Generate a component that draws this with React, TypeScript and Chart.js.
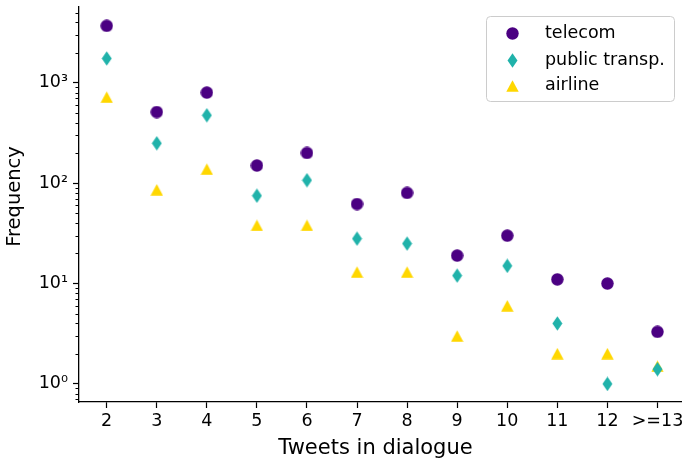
import React, { useEffect, useRef } from "react";
import { Chart, registerables } from "chart.js";

Chart.register(...registerables);

const categories = ["2", "3", "4", "5", "6", "7", "8", "9", "10", "11", "12", ">=13"];
const telecom = [3700, 512, 800, 150, 200, 62, 80, 19, 30, 11, 10, 3.3];
const publicTransp = [1750, 250, 475, 75, 107, 28, 25, 12, 15, 4, 1, 1.4];
const airline = [720, 86, 138, 38, 38, 13, 13, 3, 6, 2, 2, 1.5];
const yTickValues = [1, 10, 100, 1000];
const yTickLabels = ["10⁰", "10¹", "10²", "10³"];
const seriesNames = ["telecom", "public transp.", "airline"];
const seriesColors = ["#4b0082", "#20b2aa", "#ffd700"];
const yTitle = "Frequency";
const xTitle = "Tweets in dialogue";

const FONT = "'DejaVu Sans', sans-serif";

function makeMarker(shape: string, color: string): HTMLCanvasElement {
  const c = document.createElement("canvas");
  let w = 13, h = 13;
  if (shape === "diamond") { w = 11; h = 15; }
  if (shape === "triangle") { w = 13; h = 12; }
  c.width = w;
  c.height = h;
  const ctx = c.getContext("2d")!;
  ctx.fillStyle = color;
  ctx.beginPath();
  if (shape === "circle") {
    ctx.arc(w / 2, h / 2, 6.2, 0, Math.PI * 2);
  } else if (shape === "diamond") {
    ctx.moveTo(w / 2, 0.3);
    ctx.lineTo(w - 0.5, h / 2);
    ctx.lineTo(w / 2, h - 0.3);
    ctx.lineTo(0.5, h / 2);
    ctx.closePath();
  } else {
    ctx.moveTo(w / 2, 0.3);
    ctx.lineTo(w - 0.3, h - 0.3);
    ctx.lineTo(0.3, h - 0.3);
    ctx.closePath();
  }
  ctx.fill();
  return c;
}

export default function App() {
  const ref = useRef<HTMLCanvasElement | null>(null);

  useEffect(() => {
    document.body.style.margin = "0";
    const canvas = ref.current;
    if (!canvas) return;
    const markers = [
      makeMarker("circle", seriesColors[0]),
      makeMarker("diamond", seriesColors[1]),
      makeMarker("triangle", seriesColors[2]),
    ];
    const allSeries = [telecom, publicTransp, airline];

    const axisExtras = {
      id: "axisExtras",
      afterDraw(chart: any) {
        const s = chart.scales.y;
        const area = chart.chartArea;
        const ctx = chart.ctx;
        ctx.save();
        ctx.strokeStyle = "#000";
        ctx.lineWidth = 1;
        for (let n = -1; n <= 4; n++) {
          for (let k = 2; k <= 9; k++) {
            const v = k * Math.pow(10, n);
            if (v < s.min || v > s.max) continue;
            const y = Math.round(s.getPixelForValue(v)) + 0.5;
            ctx.beginPath();
            ctx.moveTo(area.left - 3.5, y);
            ctx.lineTo(area.left, y);
            ctx.stroke();
          }
        }
        ctx.fillStyle = "#000";
        ctx.textAlign = "center";
        ctx.textBaseline = "middle";
        // x axis title
        ctx.font = `21px ${FONT}`;
        ctx.fillText(xTitle, (area.left + area.right) / 2 - 5, area.bottom + 47);
        // y axis title
        ctx.font = `19.5px ${FONT}`;
        ctx.translate(15, (area.top + area.bottom) / 2 - 8);
        ctx.rotate(-Math.PI / 2);
        ctx.fillText(yTitle, 0, 0);
        ctx.restore();
      },
    };

    const boxLegend = {
      id: "boxLegend",
      afterDraw(chart: any) {
        const ctx = chart.ctx;
        const area = chart.chartArea;
        const x1 = area.right - 7.5;
        const x0 = 486.5;
        const y0 = area.top + 9.5;
        const y1 = y0 + 85;
        ctx.save();
        ctx.beginPath();
        const r = 4;
        ctx.moveTo(x0 + r, y0);
        ctx.lineTo(x1 - r, y0);
        ctx.quadraticCurveTo(x1, y0, x1, y0 + r);
        ctx.lineTo(x1, y1 - r);
        ctx.quadraticCurveTo(x1, y1, x1 - r, y1);
        ctx.lineTo(x0 + r, y1);
        ctx.quadraticCurveTo(x0, y1, x0, y1 - r);
        ctx.lineTo(x0, y0 + r);
        ctx.quadraticCurveTo(x0, y0, x0 + r, y0);
        ctx.closePath();
        ctx.fillStyle = "rgba(255,255,255,0.8)";
        ctx.fill();
        ctx.strokeStyle = "#cccccc";
        ctx.lineWidth = 1;
        ctx.stroke();
        ctx.font = `17.5px ${FONT}`;
        ctx.fillStyle = "#000";
        ctx.textBaseline = "middle";
        ctx.textAlign = "left";
        const rows = [y0 + 16.5, y0 + 43.5, y0 + 69];
        seriesNames.forEach((name, i) => {
          const m = markers[i];
          ctx.drawImage(m, Math.round(512 - m.width / 2), Math.round(rows[i] - m.height / 2));
          ctx.fillText(name, 545, rows[i]);
        });
        ctx.restore();
      },
    };

    const chart = new Chart(canvas, {
      type: "scatter",
      data: {
        datasets: allSeries.map((vals, i) => ({
          label: seriesNames[i],
          data: vals.map((v, j) => ({ x: j, y: v })),
          pointStyle: markers[i] as any,
          pointRadius: 6,
          pointBorderWidth: 0,
          backgroundColor: seriesColors[i],
          borderColor: seriesColors[i],
          showLine: false,
        })),
      },
      options: {
        animation: false,
        responsive: false,
        devicePixelRatio: 1,
        layout: { autoPadding: false, padding: { top: 7, left: 0, right: 0, bottom: 0 } },
        plugins: {
          legend: { display: false },
          tooltip: { enabled: false },
        },
        scales: {
          x: {
            type: "linear",
            min: -0.553,
            max: 11.49,
            afterBuildTicks: (s: any) => {
              s.ticks = categories.map((_, i) => ({ value: i }));
            },
            afterFit: (s: any) => {
              s.height = 61;
              s.paddingLeft = 0;
              s.paddingRight = 0;
            },
            ticks: {
              callback: (v: any) => categories[Math.round(Number(v))] ?? "",
              font: { family: FONT, size: 17.5 },
              color: "#000",
              padding: 3,
              maxRotation: 0,
              autoSkip: false,
            },
            grid: {
              display: true,
              drawOnChartArea: false,
              drawTicks: true,
              tickLength: 6,
              tickWidth: 1.2,
              tickColor: "#000",
            },
            border: { display: true, color: "#000", width: 1.3 },
            title: { display: false },
          },
          y: {
            type: "logarithmic",
            min: 0.66,
            max: 5700,
            afterBuildTicks: (s: any) => {
              s.ticks = yTickValues.map((v) => ({ value: v }));
            },
            afterFit: (s: any) => {
              s.width = 79;
              s.paddingTop = 0;
              s.paddingBottom = 0;
            },
            ticks: {
              callback: (v: any) => {
                const idx = yTickValues.indexOf(Number(v));
                return idx >= 0 ? yTickLabels[idx] : "";
              },
              font: { family: FONT, size: 17.5 },
              color: "#000",
              padding: 5,
              autoSkip: false,
            },
            grid: {
              display: true,
              drawOnChartArea: false,
              drawTicks: true,
              tickLength: 6,
              tickWidth: 1.2,
              tickColor: "#000",
            },
            border: { display: true, color: "#000", width: 1.3 },
            title: { display: false },
          },
        },
      },
      plugins: [axisExtras, boxLegend],
    });
    return () => chart.destroy();
  }, []);

  return (
    <div style={{ width: 682, height: 463 }}>
      <canvas ref={ref} width={682} height={463} style={{ display: "block" }} />
    </div>
  );
}
